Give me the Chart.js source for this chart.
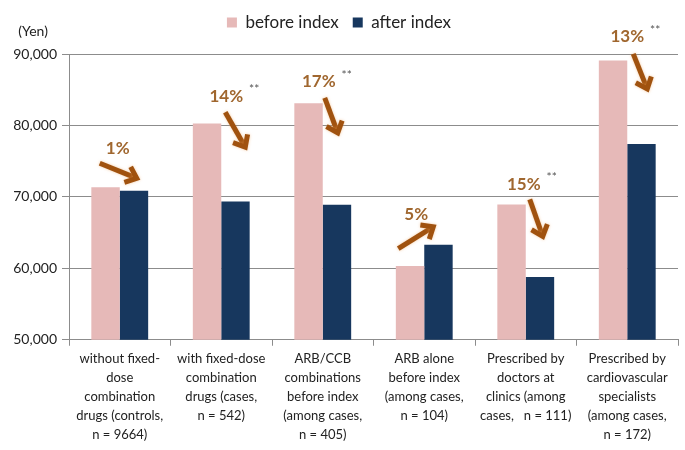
<!DOCTYPE html>
<html>
<head>
<meta charset="utf-8">
<script src="https://cdn.jsdelivr.net/npm/chart.js@4"></script>
<style>
body { margin: 0; background: #fff; }
#wrap { width: 685px; height: 450px; }
</style>
</head>
<body>
<div id="wrap"><canvas id="myChart"></canvas></div>
<script>
// data
const categories = [
    ['without fixed-', 'dose', 'combination', 'drugs (controls,', 'n = 9664)'],
    ['with fixed-dose', 'combination', 'drugs (cases,', 'n = 542)'],
    ['ARB/CCB', 'combinations', 'before index', '(among cases,', 'n = 405)'],
    ['ARB alone', 'before index', '(among cases,', 'n = 104)'],
    ['Prescribed by', 'doctors at', 'clinics (among', 'cases,   n = 111)'],
    ['Prescribed by', 'cardiovascular', 'specialists', '(among cases,', 'n = 172)']
];
const before_index = [71350, 80270, 83120, 60340, 68950, 89100];
const after_index = [70870, 69370, 68900, 63290, 58800, 77400];
const change_label = ['1%', '14%', '17%', '5%', '15%', '13%'];
const significant = [false, true, true, false, true, true];
const note_level = [76800, 84100, 86100, 67500, 71750, 92400];   // yen level of each % label

const FONT = 'Lato, "Noto Sans", sans-serif';
const TEXT = '#222222';
const AXIS = '#8c8c8c';

// extra room under the legend
const legendGap = {
    id: 'legendGap',
    beforeInit(chart) {
        const fit = chart.legend.fit;
        chart.legend.fit = function() {
            fit.bind(chart.legend)();
            this.height += 13;
        };
    }
};

// arrow + percentage notes, placed through the chart scales
const arrowNotes = {
    id: 'arrowNotes',
    afterDatasetsDraw(chart, args, opts) {
        const ctx = chart.ctx;
        const xs = chart.scales.x;
        const ys = chart.scales.y;
        ctx.save();
        for (let i = 0; i < change_label.length; i++) {
            const g = opts.shapes[i];
            const lx = xs.getPixelForValue(i) + g.dx;
            const ly = ys.getPixelForValue(note_level[i]);

            // arrow
            const sx = lx + g.s[0], sy = ly + g.s[1];
            const ex = lx + g.e[0], ey = ly + g.e[1];
            const a = Math.atan2(ey - sy, ex - sx);
            ctx.strokeStyle = opts.arrowColor;
            ctx.lineWidth = 5;
            ctx.shadowColor = 'rgba(235,160,90,0.55)';
            ctx.shadowBlur = 3;
            ctx.lineCap = 'butt';
            ctx.beginPath();
            ctx.moveTo(sx, sy);
            ctx.lineTo(ex - 3 * Math.cos(a), ey - 3 * Math.sin(a));
            ctx.stroke();
            ctx.lineJoin = 'miter';
            ctx.beginPath();
            ctx.moveTo(ex - 13 * Math.cos(a - 0.7), ey - 13 * Math.sin(a - 0.7));
            ctx.lineTo(ex, ey);
            ctx.lineTo(ex - 13 * Math.cos(a + 0.7), ey - 13 * Math.sin(a + 0.7));
            ctx.stroke();
            ctx.shadowBlur = 0;
            ctx.shadowColor = 'transparent';

            // label
            ctx.font = 'bold 17px ' + FONT;
            ctx.fillStyle = opts.textColor;
            ctx.textAlign = 'center';
            ctx.textBaseline = 'middle';
            ctx.fillText(change_label[i], lx, ly);
            if (significant[i]) {
                const w = ctx.measureText(change_label[i]).width;
                ctx.font = '12px ' + FONT;
                ctx.fillStyle = '#555555';
                ctx.textAlign = 'left';
                ctx.fillText('**', lx + w / 2 + 6, ly - 7);
            }
        }
        // unit label above the y axis
        ctx.font = '14px ' + FONT;
        ctx.fillStyle = TEXT;
        ctx.textAlign = 'center';
        ctx.textBaseline = 'middle';
        ctx.fillText('(Yen)', ys.left + 33, chart.chartArea.top - 23);
        ctx.restore();
    }
};

const ctx = document.getElementById('myChart').getContext('2d');
const myChart = new Chart(ctx, {
    type: 'bar',
    data: {
        labels: categories,
        datasets: [{
            label: 'before index',
            data: before_index,
            backgroundColor: '#E6B9B8'
        }, {
            label: 'after index',
            data: after_index,
            backgroundColor: '#17375E'
        }]
    },
    options: {
        responsive: true,
        maintainAspectRatio: false,
        animation: false,
        layout: { padding: { top: 0, right: 7, bottom: 2, left: 0 } },
        datasets: { bar: { categoryPercentage: 0.56, barPercentage: 1.0 } },
        scales: {
            x: {
                grid: { offset: true, drawOnChartArea: false, tickLength: 6, color: AXIS },
                border: { color: AXIS },
                ticks: {
                    font: { family: FONT, size: 13, lineHeight: 1.45 },
                    color: TEXT, padding: 4, maxRotation: 0, autoSkip: false
                }
            },
            y: {
                min: 50000,
                max: 90000,
                afterFit: function(scale) { scale.width = 69; },
                grid: { color: AXIS, tickLength: 7 },
                border: { color: AXIS },
                ticks: {
                    stepSize: 10000,
                    padding: 5,
                    font: { family: FONT, size: 14 },
                    color: TEXT,
                    callback: function(v) { return v.toLocaleString('en-US'); }
                }
            }
        },
        plugins: {
            legend: {
                position: 'top',
                labels: {
                    boxWidth: 10, boxHeight: 10, padding: 14,
                    font: { family: FONT, size: 17 }, color: TEXT
                }
            },
            tooltip: { enabled: false },
            arrowNotes: {
                arrowColor: '#A0520F',
                textColor: '#A0672F',
                shapes: [
                    { dx: -2, s: [-18, 15], e: [19, 30] },
                    { dx: 5,  s: [-1, 16],  e: [19, 51] },
                    { dx: -4, s: [6, 16],   e: [19, 51] },
                    { dx: -8, s: [-18, 34], e: [17, 12] },
                    { dx: -2, s: [6, 15],   e: [19, 52] },
                    { dx: 0,  s: [6, 17],   e: [20, 52] }
                ]
            }
        }
    },
    plugins: [legendGap, arrowNotes]
});
</script>
</body>
</html>
